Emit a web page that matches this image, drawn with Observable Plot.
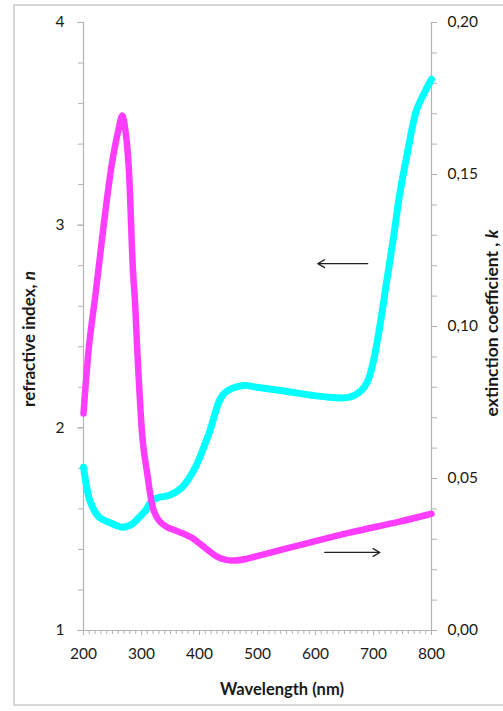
<!DOCTYPE html>
<html>
<head>
<meta charset="utf-8">
<script src="https://cdn.jsdelivr.net/npm/d3@7"></script>
<script src="https://cdn.jsdelivr.net/npm/@observablehq/plot@0.6"></script>
<style>
  html, body { margin: 0; padding: 0; background: #fff; }
  #wrap { position: relative; width: 503px; height: 711px; overflow: hidden; }
  #frame { position: absolute; left: 13px; top: 4px; width: 520px; height: 702px; border: 2px solid #d6d6d6; box-sizing: border-box; }
  #chart { position: absolute; left: 0; top: 0; }
</style>
</head>
<body>
<div id="wrap"><div id="frame"></div><div id="chart"></div></div>
<script>
// Refractive index n (left axis, cyan)
const nWavelength = [200, 212, 227, 244, 267, 284, 296, 307, 318, 330, 347, 370, 393, 416, 442, 476, 499, 540, 613, 659, 679, 690, 700, 712, 722, 734, 745, 757, 774, 788, 800];
const nValues     = [1.806, 1.633, 1.559, 1.534, 1.51, 1.526, 1.559, 1.592, 1.641, 1.657, 1.666, 1.707, 1.806, 1.97, 2.168, 2.209, 2.2, 2.184, 2.154, 2.151, 2.184, 2.23, 2.33, 2.52, 2.71, 2.93, 3.15, 3.335, 3.565, 3.655, 3.72];

// Extinction coefficient k (right axis, magenta)
const kWavelength = [200, 210, 221, 233, 249, 260, 267, 273, 278, 285, 289, 293, 301, 304, 310, 316, 321, 330, 344, 359, 373, 387, 401, 416, 430, 444, 460, 480, 496, 573, 659, 745, 800];
const kValues     = [0.0714, 0.0944, 0.111, 0.1305, 0.1536, 0.1645, 0.1694, 0.1634, 0.1524, 0.1195, 0.1076, 0.091, 0.0648, 0.0592, 0.0515, 0.0438, 0.0395, 0.0362, 0.034, 0.0329, 0.0318, 0.0305, 0.0285, 0.0262, 0.0243, 0.0233, 0.0230, 0.0235, 0.0243, 0.0281, 0.0322, 0.0358, 0.0384];

// Axis ticks
const xTicks = [200, 300, 400, 500, 600, 700, 800];
const nTicks = [1, 2, 3, 4];
const kTicks = [0.00, 0.05, 0.10, 0.15, 0.20];

// Arrow annotations (data units: wavelength, n)
const arrowFrom = [[690, 2.81], [616, 1.385]];
const arrowTo   = [[604, 2.81], [711, 1.385]];

const kMax = 0.20;
const toN = k => 1 + k * (3 / kMax);   // map k onto the n scale [1,4]

const nData = nWavelength.map((w, i) => ({w, v: nValues[i]}));
const kData = kWavelength.map((w, i) => ({w, v: toN(kValues[i])}));
const arrows = arrowFrom.map((a, i) => ({x1: a[0], y1: a[1], x2: arrowTo[i][0], y2: arrowTo[i][1]}));

const xMinor = d3.range(200, 801, 10);
const nMinor = d3.range(1, 4.001, 0.2);
const kMinor = d3.range(0, 0.2001, 0.01).map(toN);
const kFmt = d => d3.format(".2f")((d - 1) * kMax / 3).replace(".", ",");

const axisGray = "#b3b3b3";
const textCol = "#1a1a1a";

const svg = Plot.plot({
  width: 503,
  height: 711,
  marginTop: 22,
  marginBottom: 81,
  marginLeft: 83,
  marginRight: 72,
  style: {fontFamily: "Lato, 'Open Sans', sans-serif", fontSize: "15.5px", color: textCol, background: "transparent"},
  x: {domain: [200, 800]},
  y: {domain: [1, 4]},
  marks: [
    Plot.ruleX([200, 800], {stroke: axisGray, strokeWidth: 1.2}),
    Plot.ruleY([1], {stroke: axisGray, strokeWidth: 1.2}),
    Plot.axisX({ticks: xMinor, tickSize: 4, text: null, stroke: axisGray, label: null}),
    Plot.axisX({ticks: xTicks, tickSize: 5, tickPadding: 12, stroke: axisGray, fill: textCol, label: null, tickFormat: d3.format("d")}),
    Plot.axisY({anchor: "left", ticks: nMinor, tickSize: 5, text: null, stroke: axisGray, label: null}),
    Plot.axisY({anchor: "left", ticks: nTicks, tickSize: 6, tickPadding: 13, stroke: axisGray, fill: textCol, label: null, tickFormat: d3.format("d")}),
    Plot.axisY({anchor: "right", ticks: kMinor, tickSize: 5, text: null, stroke: axisGray, label: null}),
    Plot.axisY({anchor: "right", ticks: kTicks.map(toN), tickSize: 5, tickPadding: 11, stroke: axisGray, fill: textCol, label: null, tickFormat: kFmt}),
    Plot.line(nData, {x: "w", y: "v", stroke: "#00ffff", strokeWidth: 7, curve: "catmull-rom", strokeLinecap: "round"}),
    Plot.line(kData, {x: "w", y: "v", stroke: "#ff3cff", strokeWidth: 6.5, curve: "catmull-rom", strokeLinecap: "round"}),
    Plot.arrow(arrows, {x1: "x1", y1: "y1", x2: "x2", y2: "y2", stroke: "#222", strokeWidth: 1.3, headLength: 9, bend: 0})
  ]
});

const s = d3.select(svg);
const title = (x, y, rot, parts, size) => {
  const t = s.append("text")
    .attr("transform", `translate(${x},${y}) rotate(${rot})`)
    .attr("text-anchor", "middle")
    .attr("dominant-baseline", "middle")
    .attr("font-family", "Lato, 'Open Sans', sans-serif")
    .attr("font-weight", "bold")
    .attr("font-size", size)
    .attr("fill", textCol);
  parts.forEach(([txt, it]) => t.append("tspan").attr("font-style", it ? "italic" : "normal").text(txt));
};
title(282, 691, 0, [["Wavelength (nm)", false]], 16.5);
title(31, 339, -90, [["refractive index, ", false], ["n", true]], 17);
title(494, 323, -90, [["extinction coefficient , ", false], ["k", true]], 17.5);

document.getElementById("chart").appendChild(svg);
</script>
</body>
</html>
